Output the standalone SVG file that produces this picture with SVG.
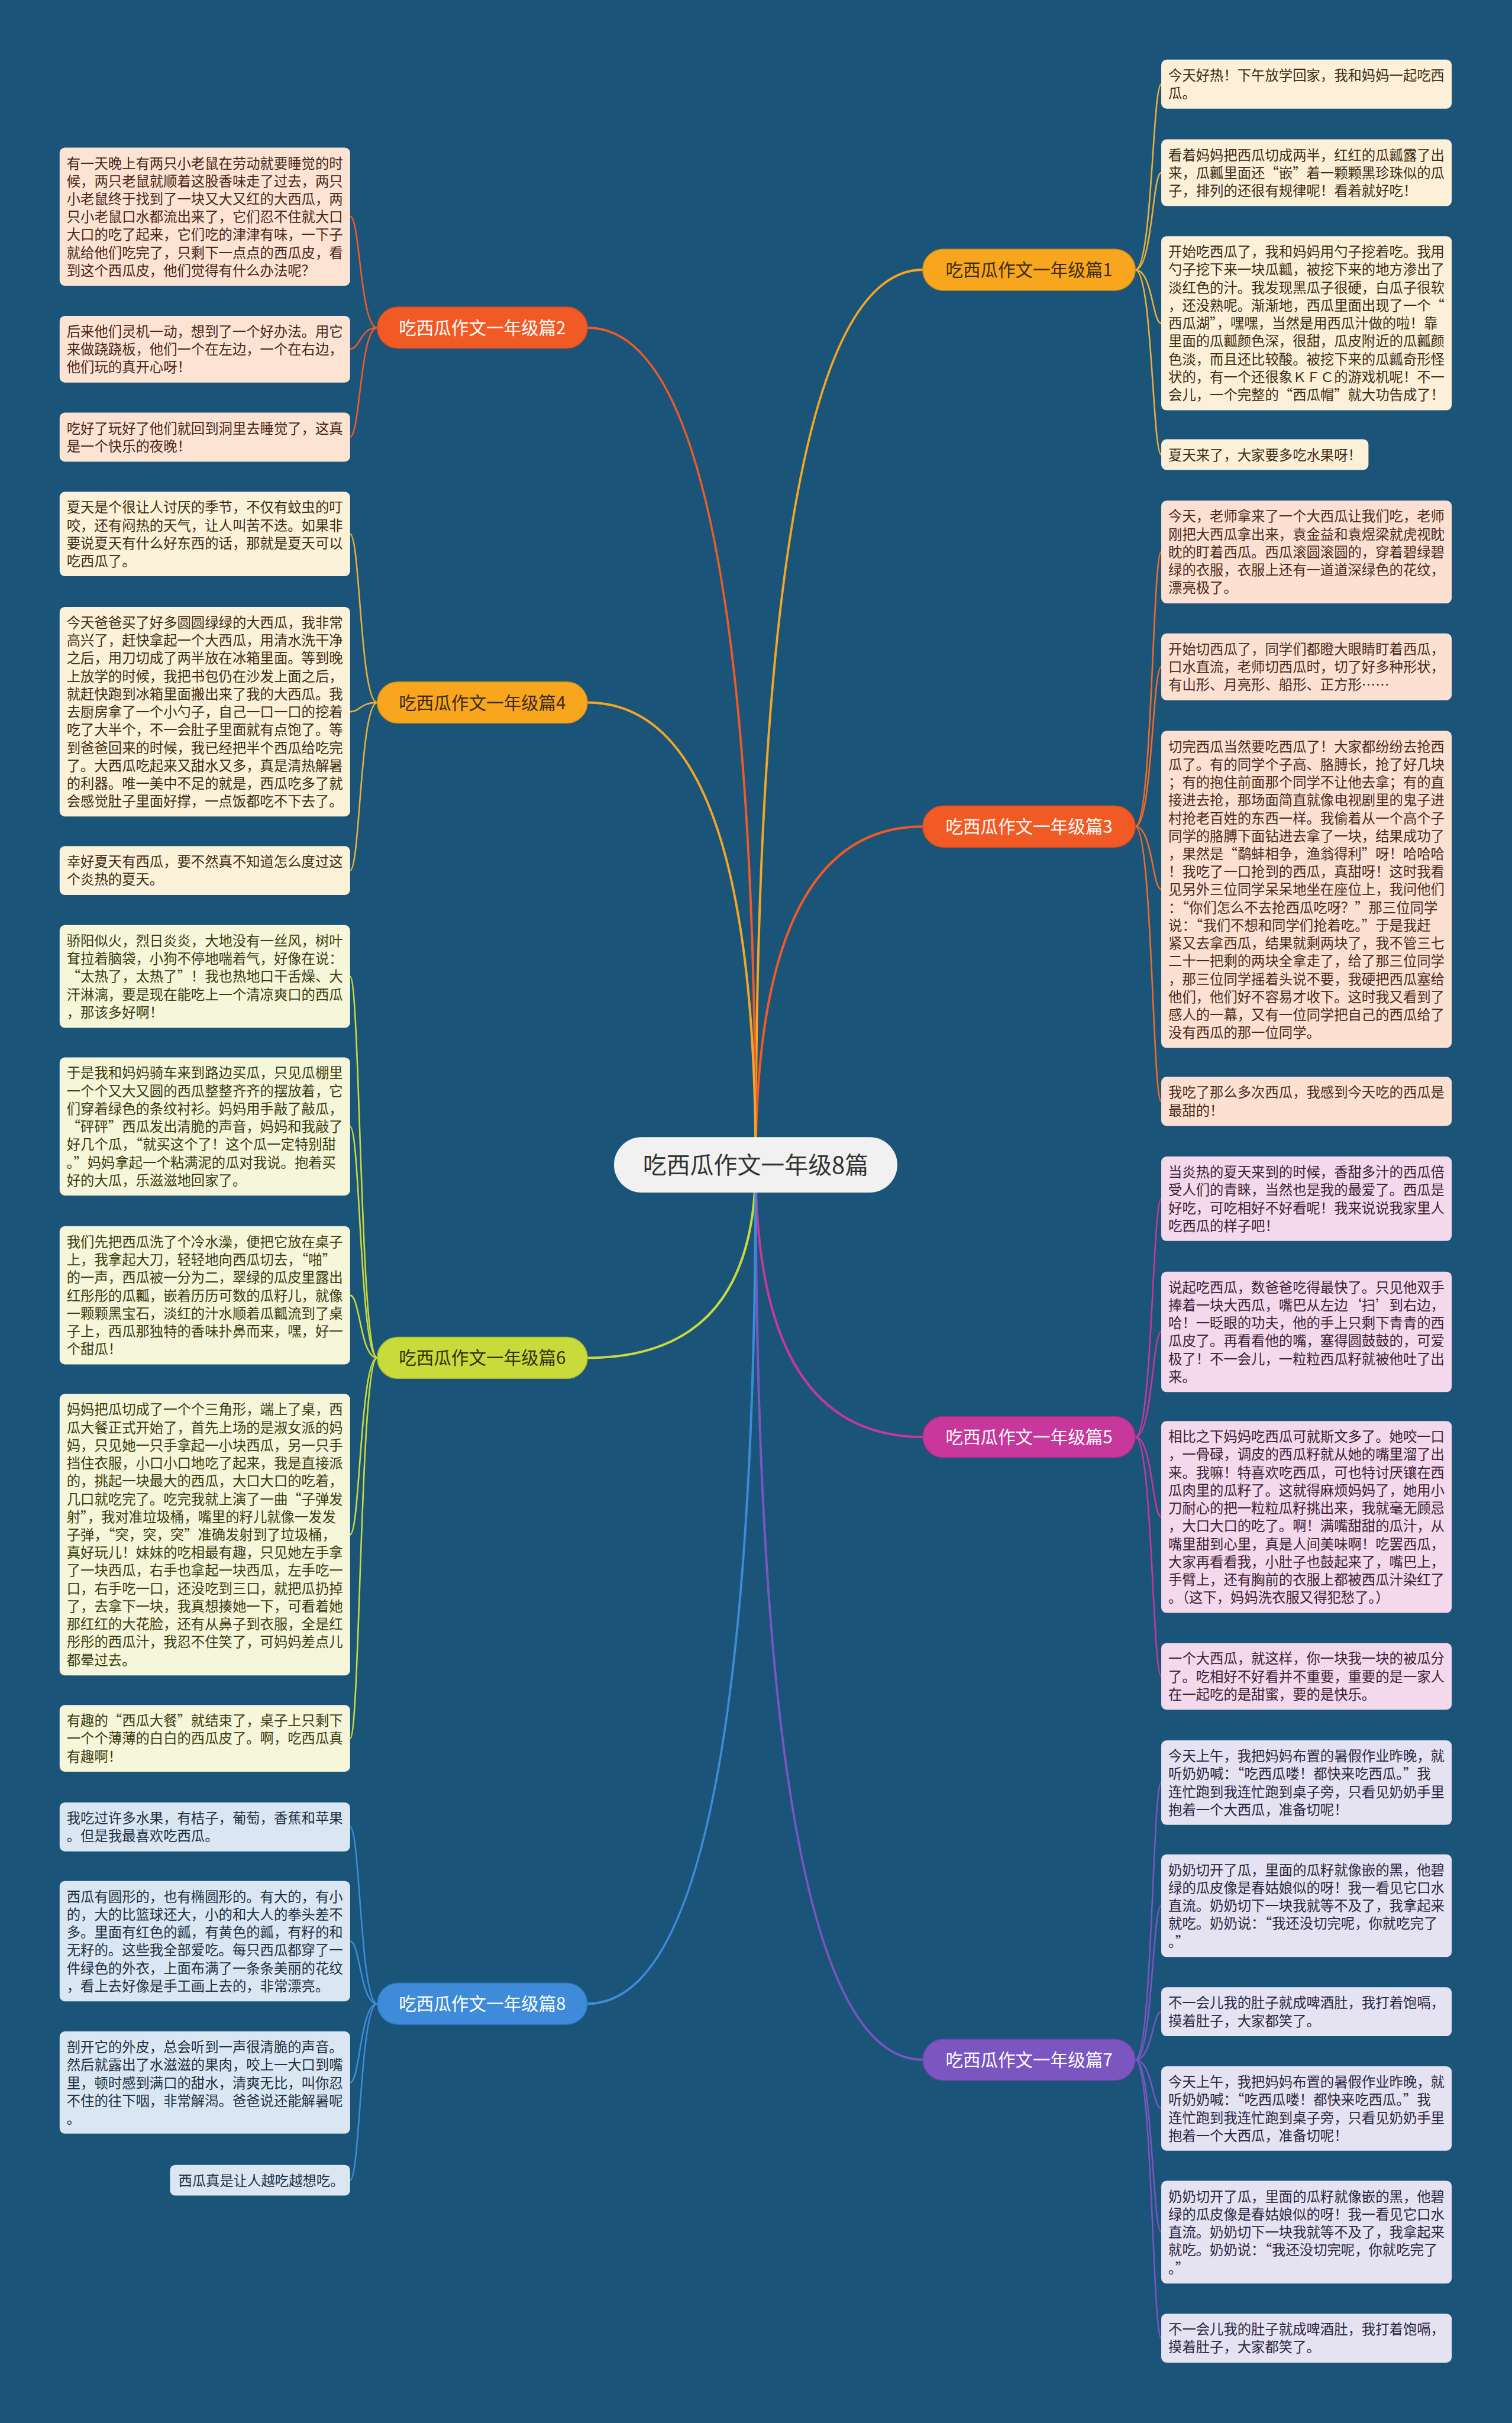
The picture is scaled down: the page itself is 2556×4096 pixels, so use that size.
<svg xmlns="http://www.w3.org/2000/svg" width="2556" height="4096" viewBox="0 0 2556 4096">
<style>
.t{font-family:"Noto Sans CJK SC","Noto Sans",sans-serif;font-size:23.4px}
.bn{font-family:"Noto Sans CJK SC","Noto Sans",sans-serif;font-size:29.6px;text-anchor:middle}
.cn{font-family:"Noto Sans CJK SC","Noto Sans",sans-serif;font-size:40px;text-anchor:middle;fill:#333}
.f1{fill:#FCF0D9}.f2{fill:#FCE3D4}.f3{fill:#FCE1D2}.f4{fill:#FCF2D9}.f5{fill:#F4D8EC}.f6{fill:#F5F6DA}.f7{fill:#E5E2F2}.f8{fill:#DAE7F3}
.k1{fill:#3E2B12}.k2{fill:#4A2617}.k3{fill:#4A2A1C}.k5{fill:#3A2232}.k6{fill:#3B3B0E}.k7{fill:#2B2640}.k8{fill:#1F2F42}
.ln{fill:none;stroke-width:4;stroke-linecap:round}
.lc{fill:none;stroke-width:2.6;stroke-linecap:round}
</style>
<rect width="2556" height="4096" fill="#1A5479"/>
<g transform="scale(0.998)">
<g id="connectors">
<path class="ln" stroke="#F5A623" d="M1280 1973 Q1280 457 1563 457"/>
<path class="ln" stroke="#F15A24" d="M1280 1973 Q1280 1400 1563 1400"/>
<path class="ln" stroke="#C8379B" d="M1280 1973 Q1280 2434 1563 2434"/>
<path class="ln" stroke="#7B55C0" d="M1280 1973 Q1280 3489 1563 3489"/>
<path class="ln" stroke="#F15A24" d="M1280 1973 Q1280 555 995 555"/>
<path class="ln" stroke="#F5A623" d="M1280 1973 Q1280 1190 995 1190"/>
<path class="ln" stroke="#C9DA3B" d="M1280 1973 Q1280 2300 995 2300"/>
<path class="ln" stroke="#3D8BD9" d="M1280 1973 Q1280 3394 995 3394"/>
<g stroke="#F15A24">
<path class="lc" d="M639 555 C610 555 610 366.5 593 366.5"/>
<path class="lc" d="M639 555 C610 555 610 591 593 591"/>
<path class="lc" d="M639 555 C610 555 610 740 593 740"/>
</g>
<g stroke="#E8AE3E">
<path class="lc" d="M639 1190 C610 1190 610 904.5 593 904.5"/>
<path class="lc" d="M639 1190 C610 1190 610 1205.5 593 1205.5"/>
<path class="lc" d="M639 1190 C610 1190 610 1474.5 593 1474.5"/>
</g>
<g stroke="#C9DA3B">
<path class="lc" d="M639 2300 C610 2300 610 1654 593 1654"/>
<path class="lc" d="M639 2300 C610 2300 610 1908 593 1908"/>
<path class="lc" d="M639 2300 C610 2300 610 2194 593 2194"/>
<path class="lc" d="M639 2300 C610 2300 610 2599.5 593 2599.5"/>
<path class="lc" d="M639 2300 C610 2300 610 2944.5 593 2944.5"/>
</g>
<g stroke="#3D8BD9">
<path class="lc" d="M639 3394 C610 3394 610 3094.5 593 3094.5"/>
<path class="lc" d="M639 3394 C610 3394 610 3288 593 3288"/>
<path class="lc" d="M639 3394 C610 3394 610 3527.5 593 3527.5"/>
<path class="lc" d="M639 3394 C610 3394 610 3693 593 3693"/>
</g>
<g stroke="#E8AE3E">
<path class="lc" d="M1923 457 C1952 457 1952 142.5 1967 142.5"/>
<path class="lc" d="M1923 457 C1952 457 1952 292.5 1967 292.5"/>
<path class="lc" d="M1923 457 C1952 457 1952 547.5 1967 547.5"/>
<path class="lc" d="M1923 457 C1952 457 1952 770 1967 770"/>
</g>
<g stroke="#F06A28">
<path class="lc" d="M1923 1400 C1952 1400 1952 935 1967 935"/>
<path class="lc" d="M1923 1400 C1952 1400 1952 1129.5 1967 1129.5"/>
<path class="lc" d="M1923 1400 C1952 1400 1952 1506.5 1967 1506.5"/>
<path class="lc" d="M1923 1400 C1952 1400 1952 1865.5 1967 1865.5"/>
</g>
<g stroke="#C8379B">
<path class="lc" d="M1923 2434 C1952 2434 1952 2030.5 1967 2030.5"/>
<path class="lc" d="M1923 2434 C1952 2434 1952 2256 1967 2256"/>
<path class="lc" d="M1923 2434 C1952 2434 1952 2569.5 1967 2569.5"/>
<path class="lc" d="M1923 2434 C1952 2434 1952 2839.5 1967 2839.5"/>
</g>
<g stroke="#7B55C0">
<path class="lc" d="M1923 3489 C1952 3489 1952 3019.5 1967 3019.5"/>
<path class="lc" d="M1923 3489 C1952 3489 1952 3228 1967 3228"/>
<path class="lc" d="M1923 3489 C1952 3489 1952 3407.5 1967 3407.5"/>
<path class="lc" d="M1923 3489 C1952 3489 1952 3571.5 1967 3571.5"/>
<path class="lc" d="M1923 3489 C1952 3489 1952 3781 1967 3781"/>
<path class="lc" d="M1923 3489 C1952 3489 1952 3960.5 1967 3960.5"/>
</g>
</g>

<g id="center"><rect x="1040" y="1926" width="480" height="94" rx="47" fill="#F1F1F1"/><text class="cn" x="1280" y="1988">吃西瓜作文一年级8篇</text></g>

<g id="branch1"><rect x="1563" y="422" width="360" height="70" rx="35" fill="#F8A61E" stroke="#D98E12" stroke-width="1.5"/><text class="bn" x="1743" y="468" fill="#3B2A12">吃西瓜作文一年级篇1</text></g>
<g id="branch2"><rect x="639" y="520" width="356" height="70" rx="35" fill="#F15A24" stroke="#D9491A" stroke-width="1.5"/><text class="bn" x="817" y="566" fill="#FFFFFF">吃西瓜作文一年级篇2</text></g>
<g id="branch3"><rect x="1563" y="1365" width="360" height="70" rx="35" fill="#F15A24" stroke="#D9491A" stroke-width="1.5"/><text class="bn" x="1743" y="1411" fill="#FFFFFF">吃西瓜作文一年级篇3</text></g>
<g id="branch4"><rect x="639" y="1155" width="356" height="70" rx="35" fill="#F8A61E" stroke="#D98E12" stroke-width="1.5"/><text class="bn" x="817" y="1201" fill="#3B2A12">吃西瓜作文一年级篇4</text></g>
<g id="branch5"><rect x="1563" y="2399" width="360" height="70" rx="35" fill="#C8379B" stroke="#A82A82" stroke-width="1.5"/><text class="bn" x="1743" y="2445" fill="#FFFFFF">吃西瓜作文一年级篇5</text></g>
<g id="branch6"><rect x="639" y="2265" width="356" height="70" rx="35" fill="#C9DA3B" stroke="#AABB2A" stroke-width="1.5"/><text class="bn" x="817" y="2311" fill="#2E3308">吃西瓜作文一年级篇6</text></g>
<g id="branch7"><rect x="1563" y="3454" width="360" height="70" rx="35" fill="#7B55C0" stroke="#6444A8" stroke-width="1.5"/><text class="bn" x="1743" y="3500" fill="#FFFFFF">吃西瓜作文一年级篇7</text></g>
<g id="branch8"><rect x="639" y="3359" width="356" height="70" rx="35" fill="#3D8BD9" stroke="#2D72BC" stroke-width="1.5"/><text class="bn" x="817" y="3405" fill="#FFFFFF">吃西瓜作文一年级篇8</text></g>

<g id="n2a"><rect class="f2" x="101" y="250" width="492" height="234" rx="9"/><text class="t k2" x="113" y="285.1"><tspan x="113" dy="0">有一天晚上有两只小老鼠在劳动就要睡觉的时</tspan><tspan x="113" dy="30.3">候，两只老鼠就顺着这股香味走了过去，两只</tspan><tspan x="113" dy="30.3">小老鼠终于找到了一块又大又红的大西瓜，两</tspan><tspan x="113" dy="30.3">只小老鼠口水都流出来了，它们忍不住就大口</tspan><tspan x="113" dy="30.3">大口的吃了起来，它们吃的津津有味，一下子</tspan><tspan x="113" dy="30.3">就给他们吃完了，只剩下一点点的西瓜皮，看</tspan><tspan x="113" dy="30.3">到这个西瓜皮，他们觉得有什么办法呢？</tspan></text></g>
<g id="n2b"><rect class="f2" x="101" y="535" width="492" height="113" rx="9"/><text class="t k2" x="113" y="570.1"><tspan x="113" dy="0">后来他们灵机一动，想到了一个好办法。用它</tspan><tspan x="113" dy="30.3">来做跷跷板，他们一个在左边，一个在右边，</tspan><tspan x="113" dy="30.3">他们玩的真开心呀！</tspan></text></g>
<g id="n2c"><rect class="f2" x="101" y="699" width="492" height="83" rx="9"/><text class="t k2" x="113" y="734.1"><tspan x="113" dy="0">吃好了玩好了他们就回到洞里去睡觉了，这真</tspan><tspan x="113" dy="30.3">是一个快乐的夜晚！</tspan></text></g>

<g id="n4a"><rect class="f4" x="101" y="833" width="492" height="143" rx="9"/><text class="t k1" x="113" y="868.1"><tspan x="113" dy="0">夏天是个很让人讨厌的季节，不仅有蚊虫的叮</tspan><tspan x="113" dy="30.3">咬，还有闷热的天气，让人叫苦不迭。如果非</tspan><tspan x="113" dy="30.3">要说夏天有什么好东西的话，那就是夏天可以</tspan><tspan x="113" dy="30.3">吃西瓜了。</tspan></text></g>
<g id="n4b"><rect class="f4" x="101" y="1028" width="492" height="355" rx="9"/><text class="t k1" x="113" y="1063.1"><tspan x="113" dy="0">今天爸爸买了好多圆圆绿绿的大西瓜，我非常</tspan><tspan x="113" dy="30.3">高兴了，赶快拿起一个大西瓜，用清水洗干净</tspan><tspan x="113" dy="30.3">之后，用刀切成了两半放在冰箱里面。等到晚</tspan><tspan x="113" dy="30.3">上放学的时候，我把书包仍在沙发上面之后，</tspan><tspan x="113" dy="30.3">就赶快跑到冰箱里面搬出来了我的大西瓜。我</tspan><tspan x="113" dy="30.3">去厨房拿了一个小勺子，自己一口一口的挖着</tspan><tspan x="113" dy="30.3">吃了大半个，不一会肚子里面就有点饱了。等</tspan><tspan x="113" dy="30.3">到爸爸回来的时候，我已经把半个西瓜给吃完</tspan><tspan x="113" dy="30.3">了。大西瓜吃起来又甜水又多，真是清热解暑</tspan><tspan x="113" dy="30.3">的利器。唯一美中不足的就是，西瓜吃多了就</tspan><tspan x="113" dy="30.3">会感觉肚子里面好撑，一点饭都吃不下去了。</tspan></text></g>
<g id="n4c"><rect class="f4" x="101" y="1433" width="492" height="83" rx="9"/><text class="t k1" x="113" y="1468.1"><tspan x="113" dy="0">幸好夏天有西瓜，要不然真不知道怎么度过这</tspan><tspan x="113" dy="30.3">个炎热的夏天。</tspan></text></g>

<g id="n6a"><rect class="f6" x="101" y="1567" width="492" height="174" rx="9"/><text class="t k6" x="113" y="1602.1"><tspan x="113" dy="0">骄阳似火，烈日炎炎，大地没有一丝风，树叶</tspan><tspan x="113" dy="30.3">耷拉着脑袋，小狗不停地喘着气，好像在说：</tspan><tspan x="113" dy="30.3">“太热了，太热了”！我也热地口干舌燥、大</tspan><tspan x="113" dy="30.3">汗淋漓，要是现在能吃上一个清凉爽口的西瓜</tspan><tspan x="113" dy="30.3">，那该多好啊！</tspan></text></g>
<g id="n6b"><rect class="f6" x="101" y="1791" width="492" height="234" rx="9"/><text class="t k6" x="113" y="1826.1"><tspan x="113" dy="0">于是我和妈妈骑车来到路边买瓜，只见瓜棚里</tspan><tspan x="113" dy="30.3">一个个又大又圆的西瓜整整齐齐的摆放着，它</tspan><tspan x="113" dy="30.3">们穿着绿色的条纹衬衫。妈妈用手敲了敲瓜，</tspan><tspan x="113" dy="30.3">“砰砰”西瓜发出清脆的声音，妈妈和我敲了</tspan><tspan x="113" dy="30.3">好几个瓜，“就买这个了！这个瓜一定特别甜</tspan><tspan x="113" dy="30.3">。”妈妈拿起一个粘满泥的瓜对我说。抱着买</tspan><tspan x="113" dy="30.3">好的大瓜，乐滋滋地回家了。</tspan></text></g>
<g id="n6c"><rect class="f6" x="101" y="2077" width="492" height="234" rx="9"/><text class="t k6" x="113" y="2112.1"><tspan x="113" dy="0">我们先把西瓜洗了个冷水澡，便把它放在桌子</tspan><tspan x="113" dy="30.3">上，我拿起大刀，轻轻地向西瓜切去，“啪”</tspan><tspan x="113" dy="30.3">的一声，西瓜被一分为二，翠绿的瓜皮里露出</tspan><tspan x="113" dy="30.3">红彤彤的瓜瓤，嵌着历历可数的瓜籽儿，就像</tspan><tspan x="113" dy="30.3">一颗颗黑宝石，淡红的汁水顺着瓜瓤流到了桌</tspan><tspan x="113" dy="30.3">子上，西瓜那独特的香味扑鼻而来，嘿，好一</tspan><tspan x="113" dy="30.3">个甜瓜！</tspan></text></g>
<g id="n6d"><rect class="f6" x="101" y="2361" width="492" height="477" rx="9"/><text class="t k6" x="113" y="2396.1"><tspan x="113" dy="0">妈妈把瓜切成了一个个三角形，端上了桌，西</tspan><tspan x="113" dy="30.3">瓜大餐正式开始了，首先上场的是淑女派的妈</tspan><tspan x="113" dy="30.3">妈，只见她一只手拿起一小块西瓜，另一只手</tspan><tspan x="113" dy="30.3">挡住衣服，小口小口地吃了起来，我是直接派</tspan><tspan x="113" dy="30.3">的，挑起一块最大的西瓜，大口大口的吃着，</tspan><tspan x="113" dy="30.3">几口就吃完了。吃完我就上演了一曲“子弹发</tspan><tspan x="113" dy="30.3">射”，我对准垃圾桶，嘴里的籽儿就像一发发</tspan><tspan x="113" dy="30.3">子弹，“突，突，突”准确发射到了垃圾桶，</tspan><tspan x="113" dy="30.3">真好玩儿！妹妹的吃相最有趣，只见她左手拿</tspan><tspan x="113" dy="30.3">了一块西瓜，右手也拿起一块西瓜，左手吃一</tspan><tspan x="113" dy="30.3">口，右手吃一口，还没吃到三口，就把瓜扔掉</tspan><tspan x="113" dy="30.3">了，去拿下一块，我真想揍她一下，可看着她</tspan><tspan x="113" dy="30.3">那红红的大花脸，还有从鼻子到衣服，全是红</tspan><tspan x="113" dy="30.3">彤彤的西瓜汁，我忍不住笑了，可妈妈差点儿</tspan><tspan x="113" dy="30.3">都晕过去。</tspan></text></g>
<g id="n6e"><rect class="f6" x="101" y="2888" width="492" height="113" rx="9"/><text class="t k6" x="113" y="2923.1"><tspan x="113" dy="0">有趣的“西瓜大餐”就结束了，桌子上只剩下</tspan><tspan x="113" dy="30.3">一个个薄薄的白白的西瓜皮了。啊，吃西瓜真</tspan><tspan x="113" dy="30.3">有趣啊！</tspan></text></g>

<g id="n8a"><rect class="f8" x="101" y="3053" width="492" height="83" rx="9"/><text class="t k8" x="113" y="3088.1"><tspan x="113" dy="0">我吃过许多水果，有桔子，葡萄，香蕉和苹果</tspan><tspan x="113" dy="30.3">。但是我最喜欢吃西瓜。</tspan></text></g>
<g id="n8b"><rect class="f8" x="101" y="3186" width="492" height="204" rx="9"/><text class="t k8" x="113" y="3221.1"><tspan x="113" dy="0">西瓜有圆形的，也有椭圆形的。有大的，有小</tspan><tspan x="113" dy="30.3">的，大的比篮球还大，小的和大人的拳头差不</tspan><tspan x="113" dy="30.3">多。里面有红色的瓤，有黄色的瓤，有籽的和</tspan><tspan x="113" dy="30.3">无籽的。这些我全部爱吃。每只西瓜都穿了一</tspan><tspan x="113" dy="30.3">件绿色的外衣，上面布满了一条条美丽的花纹</tspan><tspan x="113" dy="30.3">，看上去好像是手工画上去的，非常漂亮。</tspan></text></g>
<g id="n8c"><rect class="f8" x="101" y="3441" width="492" height="173" rx="9"/><text class="t k8" x="113" y="3476.1"><tspan x="113" dy="0">剖开它的外皮，总会听到一声很清脆的声音。</tspan><tspan x="113" dy="30.3">然后就露出了水滋滋的果肉，咬上一大口到嘴</tspan><tspan x="113" dy="30.3">里，顿时感到满口的甜水，清爽无比，叫你忍</tspan><tspan x="113" dy="30.3">不住的往下咽，非常解渴。爸爸说还能解暑呢</tspan><tspan x="113" dy="30.3">。</tspan></text></g>
<g id="n8d"><rect class="f8" x="288" y="3667" width="305" height="52" rx="9"/><text class="t k8" x="302" y="3702.1">西瓜真是让人越吃越想吃。</text></g>

<g id="n1a"><rect class="f1" x="1967" y="101" width="492" height="83" rx="9"/><text class="t k1" x="1979" y="136.1"><tspan x="1979" dy="0">今天好热！下午放学回家，我和妈妈一起吃西</tspan><tspan x="1979" dy="30.3">瓜。</tspan></text></g>
<g id="n1b"><rect class="f1" x="1967" y="236" width="492" height="113" rx="9"/><text class="t k1" x="1979" y="271.1"><tspan x="1979" dy="0">看着妈妈把西瓜切成两半，红红的瓜瓤露了出</tspan><tspan x="1979" dy="30.3">来，瓜瓤里面还“嵌”着一颗颗黑珍珠似的瓜</tspan><tspan x="1979" dy="30.3">子，排列的还很有规律呢！看着就好吃！</tspan></text></g>
<g id="n1c"><rect class="f1" x="1967" y="400" width="492" height="295" rx="9"/><text class="t k1" x="1979" y="435.1"><tspan x="1979" dy="0">开始吃西瓜了，我和妈妈用勺子挖着吃。我用</tspan><tspan x="1979" dy="30.3">勺子挖下来一块瓜瓤，被挖下来的地方渗出了</tspan><tspan x="1979" dy="30.3">淡红色的汁。我发现黑瓜子很硬，白瓜子很软</tspan><tspan x="1979" dy="30.3">，还没熟呢。渐渐地，西瓜里面出现了一个“</tspan><tspan x="1979" dy="30.3">西瓜湖”，嘿嘿，当然是用西瓜汁做的啦！靠</tspan><tspan x="1979" dy="30.3">里面的瓜瓤颜色深，很甜，瓜皮附近的瓜瓤颜</tspan><tspan x="1979" dy="30.3">色淡，而且还比较酸。被挖下来的瓜瓤奇形怪</tspan><tspan x="1979" dy="30.3">状的，有一个还很象ＫＦＣ的游戏机呢！不一</tspan><tspan x="1979" dy="30.3">会儿，一个完整的“西瓜帽”就大功告成了！</tspan></text></g>
<g id="n1d"><rect class="f1" x="1967" y="744" width="351" height="52" rx="9"/><text class="t k1" x="1979" y="779.1">夏天来了，大家要多吃水果呀！</text></g>

<g id="n3a"><rect class="f3" x="1967" y="848" width="492" height="174" rx="9"/><text class="t k3" x="1979" y="883.1"><tspan x="1979" dy="0">今天，老师拿来了一个大西瓜让我们吃，老师</tspan><tspan x="1979" dy="30.3">刚把大西瓜拿出来，袁金益和袁煜梁就虎视眈</tspan><tspan x="1979" dy="30.3">眈的盯着西瓜。西瓜滚圆滚圆的，穿着碧绿碧</tspan><tspan x="1979" dy="30.3">绿的衣服，衣服上还有一道道深绿色的花纹，</tspan><tspan x="1979" dy="30.3">漂亮极了。</tspan></text></g>
<g id="n3b"><rect class="f3" x="1967" y="1073" width="492" height="113" rx="9"/><text class="t k3" x="1979" y="1108.1"><tspan x="1979" dy="0">开始切西瓜了，同学们都瞪大眼睛盯着西瓜，</tspan><tspan x="1979" dy="30.3">口水直流，老师切西瓜时，切了好多种形状，</tspan><tspan x="1979" dy="30.3">有山形、月亮形、船形、正方形……</tspan></text></g>
<g id="n3c"><rect class="f3" x="1967" y="1238" width="492" height="537" rx="9"/><text class="t k3" x="1979" y="1273.1"><tspan x="1979" dy="0">切完西瓜当然要吃西瓜了！大家都纷纷去抢西</tspan><tspan x="1979" dy="30.3">瓜了。有的同学个子高、胳膊长，抢了好几块</tspan><tspan x="1979" dy="30.3">；有的抱住前面那个同学不让他去拿；有的直</tspan><tspan x="1979" dy="30.3">接进去抢，那场面简直就像电视剧里的鬼子进</tspan><tspan x="1979" dy="30.3">村抢老百姓的东西一样。我偷着从一个高个子</tspan><tspan x="1979" dy="30.3">同学的胳膊下面钻进去拿了一块，结果成功了</tspan><tspan x="1979" dy="30.3">，果然是“鹬蚌相争，渔翁得利”呀！哈哈哈</tspan><tspan x="1979" dy="30.3">！我吃了一口抢到的西瓜，真甜呀！这时我看</tspan><tspan x="1979" dy="30.3">见另外三位同学呆呆地坐在座位上，我问他们</tspan><tspan x="1979" dy="30.3">：“你们怎么不去抢西瓜吃呀？”那三位同学</tspan><tspan x="1979" dy="30.3">说：“我们不想和同学们抢着吃。”于是我赶</tspan><tspan x="1979" dy="30.3">紧又去拿西瓜，结果就剩两块了，我不管三七</tspan><tspan x="1979" dy="30.3">二十一把剩的两块全拿走了，给了那三位同学</tspan><tspan x="1979" dy="30.3">，那三位同学摇着头说不要，我硬把西瓜塞给</tspan><tspan x="1979" dy="30.3">他们，他们好不容易才收下。这时我又看到了</tspan><tspan x="1979" dy="30.3">感人的一幕，又有一位同学把自己的西瓜给了</tspan><tspan x="1979" dy="30.3">没有西瓜的那一位同学。</tspan></text></g>
<g id="n3d"><rect class="f3" x="1967" y="1824" width="492" height="83" rx="9"/><text class="t k3" x="1979" y="1859.1"><tspan x="1979" dy="0">我吃了那么多次西瓜，我感到今天吃的西瓜是</tspan><tspan x="1979" dy="30.3">最甜的！</tspan></text></g>

<g id="n5a"><rect class="f5" x="1967" y="1959" width="492" height="143" rx="9"/><text class="t k5" x="1979" y="1994.1"><tspan x="1979" dy="0">当炎热的夏天来到的时候，香甜多汁的西瓜倍</tspan><tspan x="1979" dy="30.3">受人们的青睐，当然也是我的最爱了。西瓜是</tspan><tspan x="1979" dy="30.3">好吃，可吃相好不好看呢！我来说说我家里人</tspan><tspan x="1979" dy="30.3">吃西瓜的样子吧！</tspan></text></g>
<g id="n5b"><rect class="f5" x="1967" y="2154" width="492" height="204" rx="9"/><text class="t k5" x="1979" y="2189.1"><tspan x="1979" dy="0">说起吃西瓜，数爸爸吃得最快了。只见他双手</tspan><tspan x="1979" dy="30.3">捧着一块大西瓜，嘴巴从左边‘扫’到右边，</tspan><tspan x="1979" dy="30.3">哈！一眨眼的功夫，他的手上只剩下青青的西</tspan><tspan x="1979" dy="30.3">瓜皮了。再看看他的嘴，塞得圆鼓鼓的，可爱</tspan><tspan x="1979" dy="30.3">极了！不一会儿，一粒粒西瓜籽就被他吐了出</tspan><tspan x="1979" dy="30.3">来。</tspan></text></g>
<g id="n5c"><rect class="f5" x="1967" y="2407" width="492" height="325" rx="9"/><text class="t k5" x="1979" y="2442.1"><tspan x="1979" dy="0">相比之下妈妈吃西瓜可就斯文多了。她咬一口</tspan><tspan x="1979" dy="30.3">，一骨碌，调皮的西瓜籽就从她的嘴里溜了出</tspan><tspan x="1979" dy="30.3">来。我嘛！特喜欢吃西瓜，可也特讨厌镶在西</tspan><tspan x="1979" dy="30.3">瓜肉里的瓜籽了。这就得麻烦妈妈了，她用小</tspan><tspan x="1979" dy="30.3">刀耐心的把一粒粒瓜籽挑出来，我就毫无顾忌</tspan><tspan x="1979" dy="30.3">，大口大口的吃了。啊！满嘴甜甜的瓜汁，从</tspan><tspan x="1979" dy="30.3">嘴里甜到心里，真是人间美味啊！吃罢西瓜，</tspan><tspan x="1979" dy="30.3">大家再看看我，小肚子也鼓起来了，嘴巴上，</tspan><tspan x="1979" dy="30.3">手臂上，还有胸前的衣服上都被西瓜汁染红了</tspan><tspan x="1979" dy="30.3">。（这下，妈妈洗衣服又得犯愁了。）</tspan></text></g>
<g id="n5d"><rect class="f5" x="1967" y="2783" width="492" height="113" rx="9"/><text class="t k5" x="1979" y="2818.1"><tspan x="1979" dy="0">一个大西瓜，就这样，你一块我一块的被瓜分</tspan><tspan x="1979" dy="30.3">了。吃相好不好看并不重要，重要的是一家人</tspan><tspan x="1979" dy="30.3">在一起吃的是甜蜜，要的是快乐。</tspan></text></g>

<g id="n7a"><rect class="f7" x="1967" y="2948" width="492" height="143" rx="9"/><text class="t k7" x="1979" y="2983.1"><tspan x="1979" dy="0">今天上午，我把妈妈布置的暑假作业昨晚，就</tspan><tspan x="1979" dy="30.3">听奶奶喊：“吃西瓜喽！都快来吃西瓜。”我</tspan><tspan x="1979" dy="30.3">连忙跑到我连忙跑到桌子旁，只看见奶奶手里</tspan><tspan x="1979" dy="30.3">抱着一个大西瓜，准备切呢！</tspan></text></g>
<g id="n7b"><rect class="f7" x="1967" y="3141" width="492" height="174" rx="9"/><text class="t k7" x="1979" y="3176.1"><tspan x="1979" dy="0">奶奶切开了瓜，里面的瓜籽就像嵌的黑，他碧</tspan><tspan x="1979" dy="30.3">绿的瓜皮像是春姑娘似的呀！我一看见它口水</tspan><tspan x="1979" dy="30.3">直流。奶奶切下一块我就等不及了，我拿起来</tspan><tspan x="1979" dy="30.3">就吃。奶奶说：“我还没切完呢，你就吃完了</tspan><tspan x="1979" dy="30.3">。”</tspan></text></g>
<g id="n7c"><rect class="f7" x="1967" y="3366" width="492" height="83" rx="9"/><text class="t k7" x="1979" y="3401.1"><tspan x="1979" dy="0">不一会儿我的肚子就成啤酒肚，我打着饱嗝，</tspan><tspan x="1979" dy="30.3">摸着肚子，大家都笑了。</tspan></text></g>
<g id="n7d"><rect class="f7" x="1967" y="3500" width="492" height="143" rx="9"/><text class="t k7" x="1979" y="3535.1"><tspan x="1979" dy="0">今天上午，我把妈妈布置的暑假作业昨晚，就</tspan><tspan x="1979" dy="30.3">听奶奶喊：“吃西瓜喽！都快来吃西瓜。”我</tspan><tspan x="1979" dy="30.3">连忙跑到我连忙跑到桌子旁，只看见奶奶手里</tspan><tspan x="1979" dy="30.3">抱着一个大西瓜，准备切呢！</tspan></text></g>
<g id="n7e"><rect class="f7" x="1967" y="3694" width="492" height="174" rx="9"/><text class="t k7" x="1979" y="3729.1"><tspan x="1979" dy="0">奶奶切开了瓜，里面的瓜籽就像嵌的黑，他碧</tspan><tspan x="1979" dy="30.3">绿的瓜皮像是春姑娘似的呀！我一看见它口水</tspan><tspan x="1979" dy="30.3">直流。奶奶切下一块我就等不及了，我拿起来</tspan><tspan x="1979" dy="30.3">就吃。奶奶说：“我还没切完呢，你就吃完了</tspan><tspan x="1979" dy="30.3">。”</tspan></text></g>
<g id="n7f"><rect class="f7" x="1967" y="3919" width="492" height="83" rx="9"/><text class="t k7" x="1979" y="3954.1"><tspan x="1979" dy="0">不一会儿我的肚子就成啤酒肚，我打着饱嗝，</tspan><tspan x="1979" dy="30.3">摸着肚子，大家都笑了。</tspan></text></g>
</g>
</svg>
